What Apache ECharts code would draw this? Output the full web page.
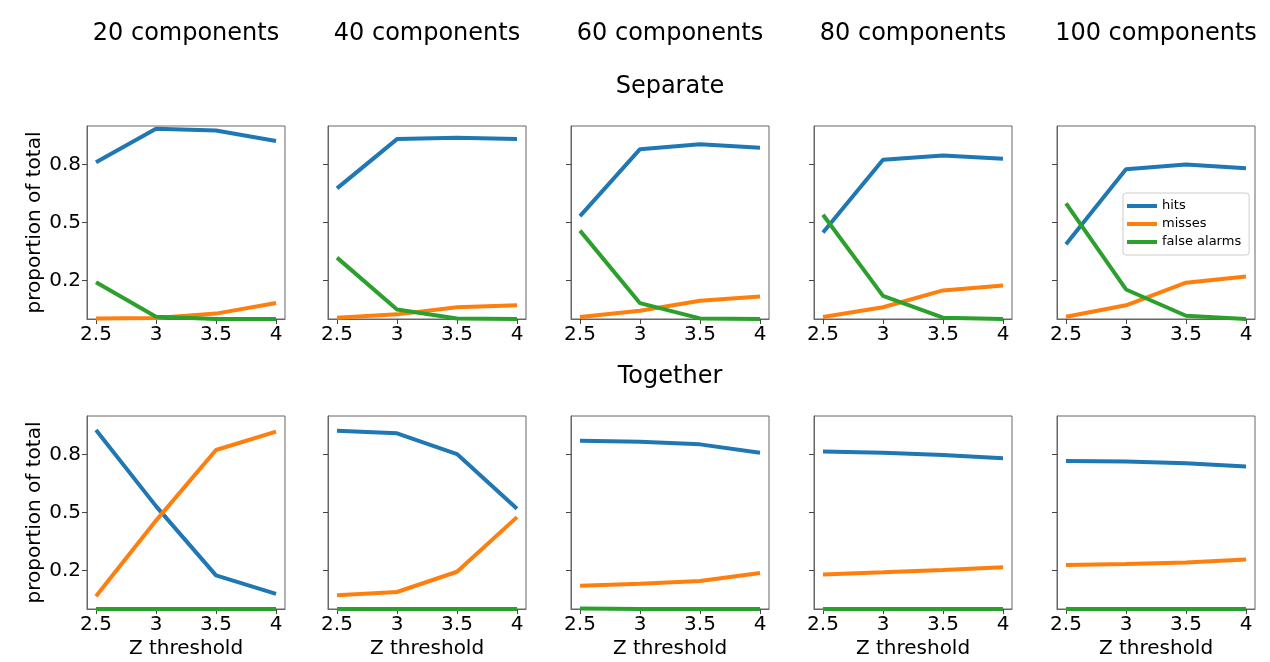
<!DOCTYPE html>
<html>
<head>
<meta charset="utf-8">
<script src="https://cdn.jsdelivr.net/npm/echarts@6/dist/echarts.min.js"></script>
<style>
  html, body { margin: 0; padding: 0; background: #fff; }
  #chart { width: 1270px; height: 662px; }
</style>
</head>
<body>
<div id="chart"></div>
<script>
// data
var thresholds = [2.5, 3, 3.5, 4];
var components = ['20 components', '40 components', '60 components', '80 components', '100 components'];
var yTicks = [0.2, 0.5, 0.8];

// Separate (one array per panel)
var separateHits = [
  [0.812, 0.986, 0.977, 0.922],
  [0.677, 0.932, 0.939, 0.932],
  [0.533, 0.880, 0.905, 0.887],
  [0.448, 0.825, 0.847, 0.830],
  [0.387, 0.776, 0.800, 0.781]
];
var separateMisses = [
  [0.002, 0.005, 0.028, 0.083],
  [0.007, 0.024, 0.061, 0.071],
  [0.010, 0.043, 0.095, 0.116],
  [0.010, 0.061, 0.148, 0.174],
  [0.012, 0.071, 0.188, 0.220]
];
var separateFalse = [
  [0.190, 0.012, 0.000, 0.000],
  [0.318, 0.049, 0.003, 0.000],
  [0.458, 0.082, 0.003, 0.000],
  [0.540, 0.120, 0.007, 0.000],
  [0.599, 0.153, 0.017, 0.000]
];

// Together
var togetherHits = [
  [0.928, 0.533, 0.174, 0.078],
  [0.924, 0.910, 0.803, 0.519],
  [0.872, 0.867, 0.853, 0.810],
  [0.816, 0.810, 0.798, 0.781],
  [0.767, 0.764, 0.755, 0.738]
];
var togetherMisses = [
  [0.066, 0.458, 0.824, 0.919],
  [0.071, 0.088, 0.193, 0.476],
  [0.121, 0.131, 0.145, 0.186],
  [0.179, 0.190, 0.202, 0.216],
  [0.228, 0.233, 0.241, 0.257]
];
var togetherFalse = [
  [0, 0, 0, 0],
  [0, 0, 0, 0],
  [0.003, 0, 0, 0],
  [0, 0, 0, 0],
  [0, 0, 0, 0]
];

var colors = { hits: '#1f77b4', misses: '#ff7f0e', falseAlarms: '#2ca02c' };
var font = 'DejaVu Sans';
var colLeft = [87, 328, 571, 814, 1057];
var rowTop = [126, 416];
var panelW = 198, panelH = 193;

var chart = echarts.init(document.getElementById('chart'));

var grids = [], xAxes = [], yAxes = [], series = [];

function pairs(vals) {
  return thresholds.map(function (t, i) { return [t, vals[i]]; });
}

[[separateHits, separateMisses, separateFalse], [togetherHits, togetherMisses, togetherFalse]].forEach(function (rowData, r) {
  for (var c = 0; c < 5; c++) {
    var idx = grids.length;
    grids.push({
      left: colLeft[c], top: rowTop[r], width: panelW, height: panelH,
      show: true, borderColor: '#666', borderWidth: 1, backgroundColor: '#fff'
    });
    xAxes.push({
      type: 'value', gridIndex: idx, min: 2.425, max: 4.075,
      name: r === 1 ? 'Z threshold' : '', nameLocation: 'middle', nameGap: 30,
      nameTextStyle: { fontFamily: font, fontSize: 20, color: '#000' },
      axisLine: { show: true, lineStyle: { color: '#666' } },
      axisTick: { show: true, inside: false, length: 5, customValues: thresholds, lineStyle: { color: '#444' } },
      axisLabel: { customValues: thresholds, margin: 6, fontFamily: font, fontSize: 20, color: '#000' },
      splitLine: { show: false }
    });
    yAxes.push({
      type: 'value', gridIndex: idx, min: 0, max: 1,
      name: c === 0 ? 'proportion of total' : '', nameLocation: 'middle', nameGap: 39, nameRotate: 90,
      nameTextStyle: { fontFamily: font, fontSize: 20, color: '#000' },
      axisLine: { show: true, lineStyle: { color: '#666' } },
      axisTick: { show: true, length: 5, customValues: yTicks, lineStyle: { color: '#444' } },
      axisLabel: { show: c === 0, customValues: yTicks, margin: 6, fontFamily: font, fontSize: 20, color: '#000' },
      splitLine: { show: false }
    });
    [['hits', rowData[0][c], colors.hits], ['misses', rowData[1][c], colors.misses], ['false alarms', rowData[2][c], colors.falseAlarms]].forEach(function (s) {
      series.push({
        name: s[0], type: 'line', xAxisIndex: idx, yAxisIndex: idx,
        data: pairs(s[1]), symbol: 'none', clip: true,
        lineStyle: { width: 4, color: s[2] }, itemStyle: { color: s[2] },
        emphasis: { disabled: true }
      });
    });
  }
});

var graphics = components.map(function (name, c) {
  return {
    type: 'text', x: colLeft[c] + panelW / 2, y: 34,
    style: { text: name, font: '24px "DejaVu Sans"', fill: '#000', textAlign: 'center', textVerticalAlign: 'middle' }
  };
});
graphics.push({ type: 'text', x: 670, y: 87, style: { text: 'Separate', font: '24px "DejaVu Sans"', fill: '#000', textAlign: 'center', textVerticalAlign: 'middle' } });
graphics.push({ type: 'text', x: 670, y: 377, style: { text: 'Together', font: '24px "DejaVu Sans"', fill: '#000', textAlign: 'center', textVerticalAlign: 'middle' } });

var option = {
  animation: false,
  backgroundColor: '#fff',
  grid: grids,
  xAxis: xAxes,
  yAxis: yAxes,
  series: series,
  graphic: graphics,
  legend: {
    data: ['hits', 'misses', 'false alarms'],
    orient: 'vertical', left: 1123, top: 193,
    icon: 'rect', itemWidth: 30, itemHeight: 4, itemGap: 4,
    padding: [6, 8, 6, 4],
    borderColor: '#ccc', borderWidth: 1, borderRadius: 3, backgroundColor: 'rgba(255,255,255,0.8)',
    textStyle: { fontFamily: font, fontSize: 13, color: '#000', lineHeight: 14 }
  }
};

chart.setOption(option);
</script>
</body>
</html>
